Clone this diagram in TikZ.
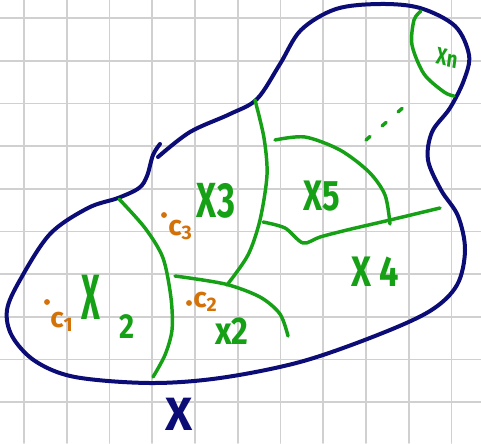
\documentclass[tikz,border=0pt]{standalone}
\usepackage{xcolor}
\usepackage{fontspec}
\usepackage{tikz}

\newfontfamily\handfont{Fira Sans}
\definecolor{penblue}{RGB}{12,12,118}
\definecolor{pengreen}{RGB}{22,160,22}
\definecolor{penorange}{RGB}{212,114,10}
\definecolor{gridgray}{RGB}{208,208,208}

\begin{document}
\begin{tikzpicture}[x=0.75pt, y=-0.75pt, line cap=round, line join=round,
    every node/.style={inner sep=0pt},
    outline/.style={penblue, line width=3pt},
    cut/.style={pengreen, line width=2.6pt},
    region/.style={pengreen, xscale=0.7},
    centre/.style={penorange, font=\handfont\bfseries\fontsize{21}{21}\selectfont}]
    \useasboundingbox (0,0) rectangle (481,443);

    % Grid paper
    \fill[white] (0,0) rectangle (481,443);
    \foreach \i in {0,...,10}
        \draw[gridgray, line width=1.3pt] ({24+42.75*\i},0) -- ({24+42.75*\i},443);
    \foreach \j in {0,...,9}
        \draw[gridgray, line width=1.3pt] (0,{18+42.7*\j}) -- (481,{18+42.7*\j});

    % Outline of X
    \draw[outline] plot[smooth, tension=0.55] coordinates {(160,144) (153,155) (147,176) (139,188)
        (118,198) (88,208) (50,234) (20,280) (7,310) (12,336) (35,361) (75,377) (150,383)
        (220,378) (300,362) (375,336) (430,311) (457,285) (465,250) (458,216) (441,190)
        (428,160) (432,132) (450,108) (464,80) (469,55) (455,26) (420,8) (380,4) (336,9)
        (301,30) (280,64) (257,99) (230,114) (190,132) (158,157)};

    % Cuts between the regions
    \draw[cut] plot[smooth] coordinates {(421,11) (414,20) (412,45) (424,74) (444,92) (454,96)};
    \draw[cut] plot[smooth] coordinates {(255,100) (264,138) (267,175) (260,220) (248,255) (227,285)};
    \draw[cut] plot[smooth] coordinates {(119,199) (145,228) (163,258) (171,298) (172,330) (165,355) (153,377)};
    \draw[cut] plot[smooth] coordinates {(175,276) (225,284) (260,297) (280,314) (288,336)};
    \draw[cut] plot[smooth] coordinates {(275,140) (305,137) (340,150) (369,172) (385,195) (390,224)};
    \draw[cut] plot[smooth, tension=0.5] coordinates {(263,222) (285,228) (303,243) (320,237)
        (347,230) (390,220) (440,208)};

    % Dots towards X_n
    \draw[cut, dash pattern=on 4pt off 12pt] (366,140) -- (406,105);

    % Region labels
    \node[region, font=\handfont\bfseries\fontsize{48}{48}\selectfont, xscale=0.72] (lblone) at (91,297) {X};
    \node[region, font=\handfont\bfseries\fontsize{26}{26}\selectfont, xscale=1.2] (lblsub) at (127,327) {2};
    \node[region, font=\handfont\bfseries\fontsize{37}{37}\selectfont, xscale=1] (lblthree) at (216,201) {X3};
    \node[region, font=\handfont\bfseries\fontsize{32}{32}\selectfont, xscale=1.1] (lblfive) at (322,196) {X5};
    \node[region, font=\handfont\bfseries\fontsize{32}{32}\selectfont, xscale=1.15] (lblfour) at (375,272) {X 4};
    \node[region, font=\handfont\bfseries\fontsize{29}{29}\selectfont, xscale=1.2] (lbltwo) at (232,331) {x2};
    \node[region, font=\handfont\bfseries\fontsize{18}{18}\selectfont, xscale=1.1, rotate=-10] (lbln) at (447,58) {Xn};

    % Centres
    \fill[penorange] (47,302) circle (2.2pt);
    \node[centre, anchor=north west] (cone) at (50,312) {c\textsubscript{1}};
    \fill[penorange] (164,215) circle (2.2pt);
    \node[centre, anchor=north west] (cthree) at (168,220) {c\textsubscript{3}};
    \fill[penorange] (189,303) circle (2.2pt);
    \node[centre, anchor=west] (ctwo) at (193,302) {c\textsubscript{2}};

    % Name of the set
    \node[penblue, font=\handfont\bfseries\fontsize{35}{35}\selectfont] (setname) at (179,414) {X};
\end{tikzpicture}
\end{document}
